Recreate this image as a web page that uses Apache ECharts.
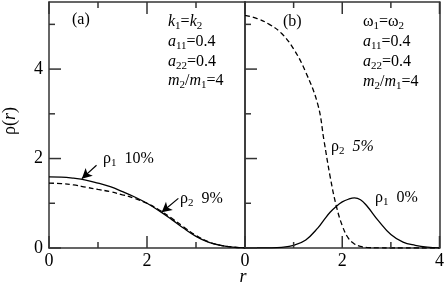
<!DOCTYPE html>
<html><head><meta charset="utf-8">
<script src="https://cdn.jsdelivr.net/npm/echarts@6/dist/echarts.min.js"></script>
<style>html,body{margin:0;padding:0;background:#fff}#c{width:447px;height:284px}</style>
</head><body><div id="c"></div>
<script>
// Panel (a): k1 = k2
const rA    = [0, 0.25, 0.5, 0.75, 1, 1.25, 1.5, 1.75, 2, 2.25, 2.5, 2.75, 3, 3.25, 3.5, 3.75, 4];
const rho1A = [1.59, 1.585, 1.56, 1.52, 1.45, 1.37, 1.26, 1.14, 1.0, 0.83, 0.64, 0.44, 0.26, 0.13, 0.06, 0.02, 0.005];
const rho2A = [1.45, 1.44, 1.41, 1.36, 1.31, 1.26, 1.19, 1.11, 1.0, 0.85, 0.67, 0.47, 0.28, 0.14, 0.06, 0.02, 0.005];
// Panel (b): omega1 = omega2
const rB    = [0, 0.25, 0.5, 0.75, 1, 1.25, 1.5, 1.625, 1.75, 1.875, 2, 2.125, 2.25, 2.375, 2.5, 2.75, 3, 3.25, 3.5, 3.75, 4];
const rho1B = [0, 0.001, 0.003, 0.015, 0.06, 0.18, 0.45, 0.63, 0.8, 0.93, 1.03, 1.09, 1.12, 1.08, 0.95, 0.6, 0.3, 0.13, 0.06, 0.02, 0.005];
const rho2B = [5.2, 5.13, 5.0, 4.8, 4.45, 3.93, 3.2, 2.4, 1.6, 0.95, 0.5, 0.22, 0.09, 0.035, 0.012, 0.002, 0, 0, 0, 0, 0];
// Axis ranges and ticks
const xMajor = 2, xMin = 0, xMax = 4;
const yMajor = 2, yMin = 0, yMax = 5.5;
const xTickMajor = [0, 2, 4], xTickMinor = [1, 3];
const yTickMajor = [0, 2, 4], yTickMinor = [1, 3, 5];
// Arrow annotations [from, to] in data space
const arrowA1 = [[0.97, 1.85], [0.67, 1.55]];
const arrowA2 = [[2.64, 1.11], [2.30, 0.80]];

const FONT = 'Liberation Serif';
const FRAME = '#333';
const pairs = (xs, ys) => xs.map((x, i) => [x, ys[i]]);

function xAx(grid, pos, labels, hideLast) {
  return {
    type: 'value', gridIndex: grid, position: pos, min: xMin, max: xMax, interval: xMajor,
    axisLine: { show: true, onZero: false, lineStyle: { color: FRAME, width: 1.5 } },
    axisTick: { show: false }, minorTick: { show: false },
    splitLine: { show: false },
    axisLabel: {
      show: labels, margin: 4, color: '#000', fontFamily: FONT, fontSize: 18,
      formatter: v => (hideLast && v === xMax) ? '' : String(v)
    }
  };
}
function yAx(grid, pos, labels) {
  return {
    type: 'value', gridIndex: grid, position: pos, min: yMin, max: yMax, interval: yMajor,
    axisLine: { show: true, onZero: false, lineStyle: { color: FRAME, width: 1.5 } },
    axisTick: { show: false }, splitLine: { show: false },
    axisLabel: {
      show: labels, margin: 6, color: '#000', fontFamily: FONT, fontSize: 18,
      showMaxLabel: false
    }
  };
}
function line(xi, yi, xs, ys, dashed, arrow) {
  const s = {
    type: 'line', xAxisIndex: xi, yAxisIndex: yi, data: pairs(xs, ys),
    showSymbol: false, smooth: 0.4, animation: false, silent: true,
    lineStyle: { color: '#000', width: 1.3, type: dashed ? [5, 3] : 'solid' }
  };
  if (arrow) {
    s.markLine = {
      silent: true, animation: false, symbol: ['none', 'arrow'], symbolSize: [8, 10],
      label: { show: false },
      lineStyle: { color: '#000', width: 1.2, type: 'solid' },
      data: [[{ coord: arrow[0] }, { coord: arrow[1] }]]
    };
  }
  return s;
}

const rich = {
  n: { fontFamily: FONT, fontSize: 16, lineHeight: 20, verticalAlign: 'middle', color: '#000' },
  i: { fontFamily: FONT, fontSize: 16, fontStyle: 'italic', lineHeight: 20, verticalAlign: 'middle', color: '#000' },
  s: { fontFamily: FONT, fontSize: 11, lineHeight: 6, verticalAlign: 'bottom', color: '#000' },
  L: { fontFamily: FONT, fontSize: 18, lineHeight: 22, verticalAlign: 'middle', color: '#000' },
  Li: { fontFamily: FONT, fontSize: 18, fontStyle: 'italic', lineHeight: 22, verticalAlign: 'middle', color: '#000' }
};
let tid = 0;
function txt(x, y, text, align, rot) {
  return {
    id: 't' + (tid++), type: 'text', x: x, y: y, rotation: rot || 0, silent: true, z: 10,
    style: { text: text, rich: rich, align: align || 'left', verticalAlign: 'middle',
             textAlign: align || 'left', textVerticalAlign: 'middle' }
  };
}

const chart = echarts.init(document.getElementById('c'), null, { renderer: 'canvas' });
chart.setOption({
  animation: false,
  backgroundColor: '#fff',
  grid: [
    { left: 49, top: 2, width: 196, height: 246 },
    { left: 245, top: 2, width: 195, height: 246 }
  ],
  xAxis: [xAx(0, 'bottom', true, true), xAx(0, 'top', false, false), xAx(1, 'bottom', true, false), xAx(1, 'top', false, false)],
  yAxis: [yAx(0, 'left', true), yAx(0, 'right', false), yAx(1, 'left', false), yAx(1, 'right', false)],
  series: [
    line(0, 0, rA, rho1A, false, arrowA1),
    line(0, 0, rA, rho2A, true, arrowA2),
    line(2, 2, rB, rho1B, false, null),
    line(2, 2, rB, rho2B, true, null)
  ],
  graphic: [
    txt(72, 20, '{n|(a)}'),
    txt(168, 22, '{i|k}{s|1}{n|=}{i|k}{s|2}'),
    txt(168, 42, '{i|a}{s|11}{n|=0.4}'),
    txt(168, 62, '{i|a}{s|22}{n|=0.4}'),
    txt(168, 81, '{i|m}{s|2}{n|/}{i|m}{s|1}{n|=4}'),
    txt(283, 22, '{n|(b)}'),
    txt(363, 22, '{n|ω}{s|1}{n|=ω}{s|2}'),
    txt(363, 42, '{i|a}{s|11}{n|=0.4}'),
    txt(363, 62, '{i|a}{s|22}{n|=0.4}'),
    txt(363, 82, '{i|m}{s|2}{n|/}{i|m}{s|1}{n|=4}'),
    txt(103, 159, '{n|ρ}{s|1}{n|  10%}'),
    txt(180, 199, '{n|ρ}{s|2}{n|  9%}'),
    txt(331, 147, '{n|ρ}{s|2}{i|  5%}'),
    txt(375, 198, '{n|ρ}{s|1}{n|  0%}'),
    txt(243, 277, '{Li|r}', 'center'),
    txt(10, 121, '{L|ρ(}{Li|r}{L|)}', 'center', Math.PI / 2)
  ]
});

// Inward ticks, placed through the axes' own scales
try {
  const tickEls = [];
  let k = 0;
  [[0, 0, 0], [2, 2, 1]].forEach(([xi, yi, gi]) => {
    const pt = (x, y) => {
      let p = chart.convertToPixel({ xAxisIndex: xi, yAxisIndex: yi }, [x, y]);
      if (!p) p = chart.convertToPixel({ gridIndex: gi }, [x, y]);
      return p;
    };
    const seg = (a, b) => tickEls.push({
      id: 'k' + (k++), type: 'line', silent: true, z: 5,
      shape: { x1: a[0], y1: a[1], x2: b[0], y2: b[1] },
      style: { stroke: FRAME, lineWidth: 1.5 }
    });
    xTickMajor.concat(xTickMinor).forEach(v => {
      const L = xTickMajor.includes(v) ? 12 : 6;
      const b = pt(v, yMin), t = pt(v, yMax);
      seg(b, [b[0], b[1] - L]);
      seg(t, [t[0], t[1] + L]);
    });
    yTickMajor.concat(yTickMinor).forEach(v => {
      const L = yTickMajor.includes(v) ? 12 : 6;
      const l = pt(xMin, v);
      seg(l, [l[0] + L, l[1]]);
    });
  });
  chart.setOption({ graphic: tickEls });
} catch (e) { console.error(e); }
</script>
</body></html>
